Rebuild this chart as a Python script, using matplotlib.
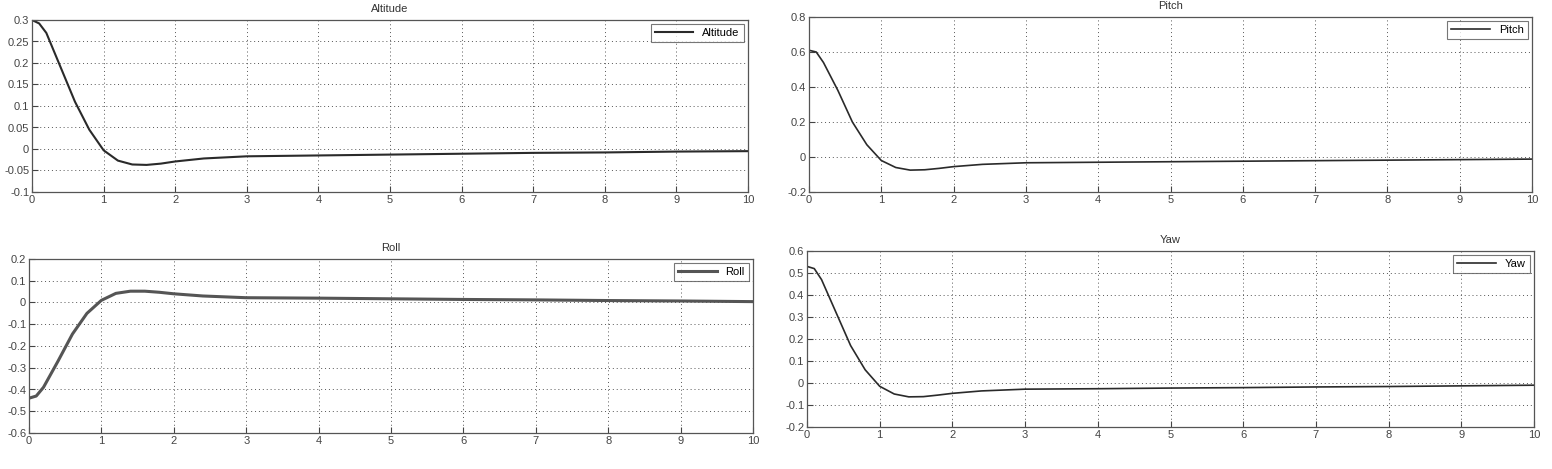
import numpy as np
import matplotlib.pyplot as plt

plt.rcParams['font.family'] = ['Liberation Sans', 'DejaVu Sans']

# temps (s)
t = [0, 0.1, 0.2, 0.4, 0.6, 0.8, 1.0, 1.2, 1.4, 1.6, 1.8, 2.0, 2.4, 3, 4, 5, 6, 7, 8, 9, 10]

altitude = [0.3, 0.292, 0.27, 0.19, 0.11, 0.045, -0.003, -0.027, -0.036, -0.037, -0.034,
            -0.029, -0.022, -0.017, -0.015, -0.013, -0.011, -0.009, -0.008, -0.006, -0.005]
pitch = [0.61, 0.60, 0.54, 0.38, 0.20, 0.07, -0.02, -0.06, -0.075, -0.073, -0.065,
         -0.055, -0.042, -0.033, -0.030, -0.027, -0.024, -0.021, -0.018, -0.015, -0.012]
roll = [-0.44, -0.43, -0.39, -0.27, -0.145, -0.05, 0.01, 0.042, 0.052, 0.052, 0.047,
        0.04, 0.03, 0.022, 0.02, 0.017, 0.014, 0.012, 0.009, 0.007, 0.004]
yaw = [0.53, 0.52, 0.47, 0.32, 0.17, 0.06, -0.015, -0.05, -0.063, -0.062, -0.055,
       -0.047, -0.036, -0.028, -0.026, -0.023, -0.021, -0.018, -0.016, -0.013, -0.01]

W, H = 1552, 469
fig = plt.figure(figsize=(W / 100, H / 100), dpi=100)

# (left, right, top, bottom) en pixels
boxes = [(32, 748, 20, 192), (809, 1532, 17, 192), (29, 753, 259, 433), (807, 1534, 251, 427)]
names = ['Altitude', 'Pitch', 'Roll', 'Yaw']
series = [altitude, pitch, roll, yaw]
ylims = [(-0.1, 0.3), (-0.2, 0.8), (-0.6, 0.2), (-0.2, 0.6)]
ysteps = [0.05, 0.2, 0.1, 0.1]
lws = [1.5, 1.2, 2.2, 1.2]
colors = ['#2a2a2a', '#2a2a2a', '#555555', '#2a2a2a']

for (l, r, tp, b), name, y, lim, st, lw, c in zip(boxes, names, series, ylims, ysteps, lws, colors):
    ax = fig.add_axes([l / W, 1 - b / H, (r - l) / W, (b - tp) / H])
    ax.plot(t, y, color=c, lw=lw, label=name)
    ax.set_xlim(0, 10)
    ax.set_ylim(*lim)
    ax.set_xticks(range(0, 11))
    yt = np.round(np.arange(lim[0], lim[1] + st / 2, st), 3)
    ax.set_yticks(yt)
    ax.set_yticklabels([('%g' % v) if abs(v) > 1e-9 else '0' for v in yt])
    ax.tick_params(direction='in', labelsize=8, colors='#444444', length=4, pad=2)
    ax.grid(True, linestyle=(0, (1, 3)), color='#555555', lw=0.7)
    for s in ax.spines.values():
        s.set_color('#555555')
        s.set_linewidth(0.9)
    ax.set_title(name, fontsize=8, color='#333333', pad=5.5)
    leg = ax.legend(loc='upper right', fontsize=8, fancybox=False, handlelength=3.5,
                    borderpad=0.35, borderaxespad=0.4)
    leg.get_frame().set_edgecolor('#555555')
    leg.get_frame().set_linewidth(0.8)

plt.savefig('out.png', dpi=100)
